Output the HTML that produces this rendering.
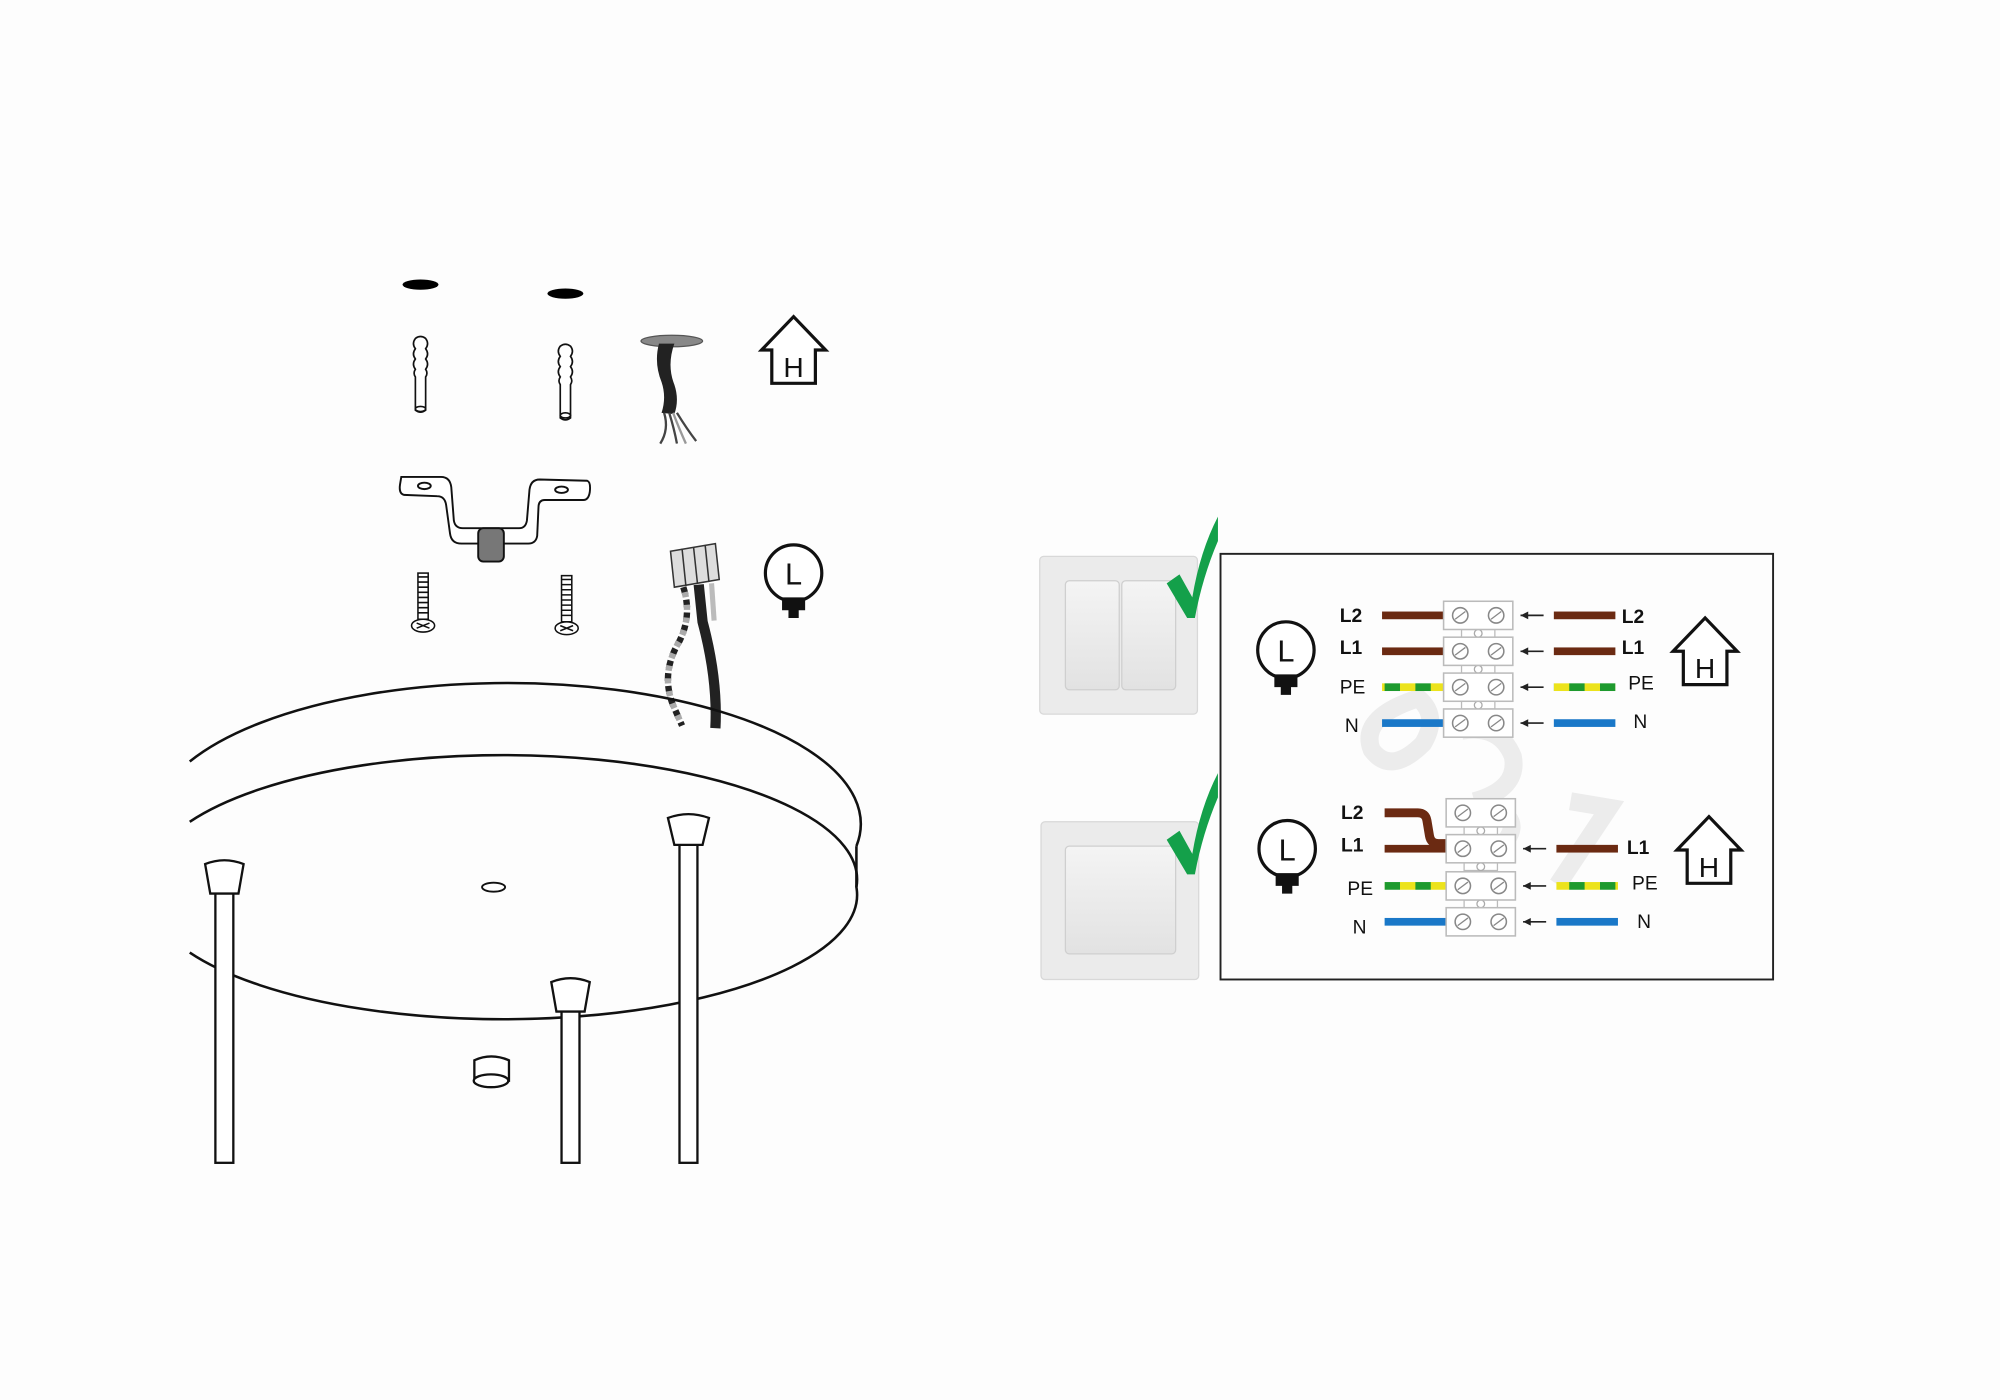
<!DOCTYPE html>
<html><head><meta charset="utf-8"><style>
html,body{margin:0;padding:0;background:#fdfdfd;}
svg{display:block;}
text{font-family:"Liberation Sans",sans-serif;}
</style></head><body>
<svg width="2000" height="1400" viewBox="0 0 1560 1092" preserveAspectRatio="none" xmlns="http://www.w3.org/2000/svg">
<defs>
  <pattern id="pe" width="24" height="8" patternUnits="userSpaceOnUse">
    <rect width="12" height="8" fill="#1e9a2e"/><rect x="12" width="12" height="8" fill="#ece31c"/>
  </pattern>
  <linearGradient id="sw" x1="0" y1="0" x2="0" y2="1">
    <stop offset="0" stop-color="#f4f4f4"/><stop offset="1" stop-color="#e2e2e2"/>
  </linearGradient>
  <g id="blk">
    <rect x="0" y="-11" width="54" height="22" fill="#fff" stroke="#bbb" stroke-width="1.2"/>
    <circle cx="13" cy="0" r="6" fill="#fff" stroke="#888" stroke-width="1.2"/>
    <line x1="9" y1="3" x2="17" y2="-3" stroke="#888"/>
    <circle cx="41" cy="0" r="6" fill="#fff" stroke="#888" stroke-width="1.2"/>
    <line x1="37" y1="3" x2="45" y2="-3" stroke="#888"/>
  </g>
  <g id="conn">
    <rect x="14" y="11" width="26" height="6" fill="#fff" stroke="#bbb"/>
    <circle cx="27" cy="14" r="3" fill="#fff" stroke="#aaa"/>
  </g>
  <g id="arr"><line x1="0" y1="0" x2="18" y2="0" stroke="#222" stroke-width="1.3"/><path d="M0 0 L6 -3 L6 3Z" fill="#222"/></g>
  <g id="bulb">
    <circle cx="0" cy="0" r="22" fill="#fff" stroke="#111" stroke-width="2.5"/>
    <text x="0" y="9" font-size="24" text-anchor="middle" fill="#111">L</text>
    <path d="M-9 19 L9 19 L9 29 L4 29 L4 35 L-4 35 L-4 29 L-9 29Z" fill="#111"/>
  </g>
  <g id="house">
    <path d="M0 26 L25 0 L50 26 L42 26 L42 52 L8 52 L8 26Z" fill="#fff" stroke="#111" stroke-width="2.5" stroke-linejoin="miter"/>
    <text x="25" y="47" font-size="22" text-anchor="middle" fill="#111">H</text>
  </g>
</defs>

<!-- ===== Left assembly ===== -->
<ellipse cx="328" cy="222" rx="14" ry="4" fill="#000"/>
<ellipse cx="441" cy="229" rx="14" ry="4" fill="#000"/>
<g fill="#fff" stroke="#111" stroke-width="1.3">
  <path d="M324 264 q4 -3 8 0 q3 4 0 8 q3 4 0 8 q3 4 0 8 q2 3 0 6 l0 26 q-4 3 -8 0 l0 -26 q-2 -3 0 -6 q-3 -4 0 -8 q-3 -4 0 -8 q-3 -4 0 -8z"/>
  <ellipse cx="328" cy="319" rx="4" ry="2"/>
  <path d="M437 270 q4 -3 8 0 q3 4 0 8 q3 4 0 8 q3 4 0 8 q2 3 0 6 l0 26 q-4 3 -8 0 l0 -26 q-2 -3 0 -6 q-3 -4 0 -8 q-3 -4 0 -8 q-3 -4 0 -8z"/>
  <ellipse cx="441" cy="324" rx="4" ry="2"/>
</g>
<ellipse cx="524" cy="266" rx="24" ry="4.5" fill="#888" stroke="#555"/>
<path d="M514 268 L526 268 Q520 285 526 300 Q530 312 526 323 L516 322 Q520 310 516 298 Q510 283 514 268Z" fill="#222"/>
<g stroke="#444" stroke-width="1.8" fill="none">
  <path d="M518 322 Q522 335 515 346"/><path d="M522 322 Q526 335 528 346"/>
  <path d="M525 322 Q530 335 535 346" stroke="#999"/><path d="M528 322 Q536 335 543 344"/>
</g>
<use href="#house" x="594" y="247"/>
<g fill="#fff" stroke="#111" stroke-width="1.5">
  <path d="M313 372 L344 372 Q351 372 352 380 L354 406 Q355 412 361 412 L405 412 Q410 412 411 406 L413 382 Q414 374 421 374 L458 375 Q461 376 460 384 Q459 390 455 390 L425 390 Q420 390 420 396 L419 418 Q418 424 412 424 L360 424 Q352 424 351 416 L348 394 Q347 387 341 387 L315 386 Q311 385 312 378Z"/>
  <ellipse cx="331" cy="379" rx="5" ry="2.5"/><ellipse cx="438" cy="382" rx="5" ry="2.5"/>
  <rect x="373" y="412" width="20" height="26" rx="4" fill="#777"/>
</g>
<g stroke="#111" stroke-width="1.2" fill="#fff">
  <rect x="326" y="447" width="8" height="36"/>
  <path d="M326 450 h8 M326 454 h8 M326 458 h8 M326 462 h8 M326 466 h8 M326 470 h8 M326 474 h8 M326 478 h8"/>
  <ellipse cx="330" cy="488" rx="9" ry="5"/><path d="M325 486 l10 4 M335 486 l-10 4"/>
  <rect x="438" y="449" width="8" height="36"/>
  <path d="M438 452 h8 M438 456 h8 M438 460 h8 M438 464 h8 M438 468 h8 M438 472 h8 M438 476 h8 M438 480 h8"/>
  <ellipse cx="442" cy="490" rx="9" ry="5"/><path d="M437 488 l10 4 M447 488 l-10 4"/>
</g>
<g stroke="#333" stroke-width="1.2" fill="#ddd">
  <path d="M523 430 L558 424 L561 452 L526 458Z"/>
  <path d="M532 428 L535 457 M541 427 L544 455 M550 425 L553 454" fill="none"/>
</g>
<path d="M533 458 Q540 480 530 500 Q515 525 525 550 L532 566" stroke="#222" stroke-width="5" fill="none" stroke-dasharray="6 4"/>
<path d="M533 458 Q540 480 530 500 Q515 525 525 550 L532 566" stroke="#aaa" stroke-width="5" fill="none" stroke-dasharray="4 6" stroke-dashoffset="6"/>
<path d="M545 456 L548 485 Q560 530 558 568" stroke="#222" stroke-width="8" fill="none"/>
<path d="M555 455 L557 484" stroke="#bbb" stroke-width="4" fill="none"/>
<use href="#bulb" x="619" y="447"/>
<g fill="none" stroke="#111" stroke-width="2">
  <path d="M148 594 A276 110 0 0 1 668 660"/>
  <path d="M148 641 A276 97 0 0 1 668 692 A276 97 0 0 1 148 743"/>
  <line x1="668" y1="660" x2="668" y2="692"/>
</g>
<ellipse cx="385" cy="692" rx="9" ry="3.5" fill="#fff" stroke="#111" stroke-width="1.5"/>
<g fill="#fff" stroke="#111" stroke-width="1.8">
  <rect x="168" y="695" width="14" height="212"/>
  <path d="M160 674 Q175 668 190 674 L186 697 L164 697Z"/>
  <rect x="438" y="787" width="14" height="120"/>
  <path d="M430 766 Q445 760 460 766 L456 789 L434 789Z"/>
  <rect x="530" y="657" width="14" height="250"/>
  <path d="M521 638 Q537 632 553 638 L548 659 L526 659Z"/>
  <path d="M370 827 Q383 821 397 827 L397 843 L370 843Z"/>
  <ellipse cx="383" cy="843" rx="13.5" ry="5"/>
</g>

<!-- ===== Right panel ===== -->
<rect x="811" y="434" width="123" height="123" rx="3" fill="#ebebeb" stroke="#d8d8d8"/>
<rect x="831" y="453" width="42" height="85" rx="3" fill="url(#sw)" stroke="#cfcfcf"/>
<rect x="875" y="453" width="42" height="85" rx="3" fill="url(#sw)" stroke="#cfcfcf"/>
<rect x="812" y="641" width="123" height="123" rx="3" fill="#ebebeb" stroke="#d8d8d8"/>
<rect x="831" y="660" width="86" height="84" rx="3" fill="url(#sw)" stroke="#cfcfcf"/>
<path d="M910 455 L920 448 L930 466 Q936 430 950 403 L950 422 Q938 450 932 482 L926 482Z" fill="#14a04a"/>
<path d="M910 655 L920 648 L930 666 Q936 630 950 603 L950 622 Q938 650 932 682 L926 682Z" fill="#14a04a"/>
<rect x="952" y="432" width="431" height="332" fill="none" stroke="#222" stroke-width="1.5"/>
<g fill="none" stroke="#ececec" stroke-width="14">
  <path d="M1105 545 Q1060 560 1070 585 Q1085 605 1110 580 Q1125 555 1100 540"/>
  <path d="M1140 570 Q1170 565 1180 590 Q1185 615 1150 625 M1150 625 Q1190 635 1175 655"/>
  <path d="M1225 625 L1255 630 L1215 690"/>
</g>
<use href="#bulb" x="1003" y="507"/>
<g font-weight="bold" font-size="15" fill="#111">
  <text x="1045" y="485">L2</text><text x="1045" y="510">L1</text>
  <text x="1265" y="486">L2</text><text x="1265" y="510">L1</text>
</g>
<g font-size="15" fill="#111">
  <text x="1045" y="541">PE</text><text x="1049" y="571">N</text>
  <text x="1270" y="538">PE</text><text x="1274" y="568">N</text>
</g>
<rect x="1078" y="477" width="48" height="6" fill="#6b2a12"/>
<rect x="1078" y="505" width="48" height="6" fill="#6b2a12"/>
<rect x="1078" y="533" width="48" height="6" fill="url(#pe)"/>
<rect x="1078" y="561" width="48" height="6" fill="#1a78c8"/>
<rect x="1212" y="477" width="48" height="6" fill="#6b2a12"/>
<rect x="1212" y="505" width="48" height="6" fill="#6b2a12"/>
<rect x="1212" y="533" width="48" height="6" fill="url(#pe)"/>
<rect x="1212" y="561" width="48" height="6" fill="#1a78c8"/>
<use href="#conn" x="1126" y="480"/><use href="#conn" x="1126" y="508"/><use href="#conn" x="1126" y="536"/>
<use href="#blk" x="1126" y="480"/><use href="#blk" x="1126" y="508"/><use href="#blk" x="1126" y="536"/><use href="#blk" x="1126" y="564"/>
<use href="#arr" x="1186" y="480"/><use href="#arr" x="1186" y="508"/><use href="#arr" x="1186" y="536"/><use href="#arr" x="1186" y="564"/>
<use href="#house" x="1305" y="482"/>
<use href="#bulb" x="1004" y="662"/>
<g font-weight="bold" font-size="15" fill="#111">
  <text x="1046" y="639">L2</text><text x="1046" y="664">L1</text><text x="1269" y="666">L1</text>
</g>
<g font-size="15" fill="#111">
  <text x="1051" y="698">PE</text><text x="1055" y="728">N</text>
  <text x="1273" y="694">PE</text><text x="1277" y="724">N</text>
</g>
<path d="M1080 634 L1106 634 Q1112 634 1113 640 L1115 652 Q1116 658 1122 658 L1130 658" stroke="#6b2a12" stroke-width="7" fill="none"/>
<rect x="1080" y="659" width="50" height="6" fill="#6b2a12"/>
<rect x="1080" y="688" width="48" height="6" fill="url(#pe)"/>
<rect x="1080" y="716" width="48" height="6" fill="#1a78c8"/>
<rect x="1214" y="659" width="48" height="6" fill="#6b2a12"/>
<rect x="1214" y="688" width="48" height="6" fill="url(#pe)"/>
<rect x="1214" y="716" width="48" height="6" fill="#1a78c8"/>
<use href="#conn" x="1128" y="634"/><use href="#conn" x="1128" y="662"/><use href="#conn" x="1128" y="691"/>
<use href="#blk" x="1128" y="634"/><use href="#blk" x="1128" y="662"/><use href="#blk" x="1128" y="691"/><use href="#blk" x="1128" y="719"/>
<use href="#arr" x="1188" y="662"/><use href="#arr" x="1188" y="691"/><use href="#arr" x="1188" y="719"/>
<use href="#house" x="1308" y="637"/>
</svg>
</body></html>
